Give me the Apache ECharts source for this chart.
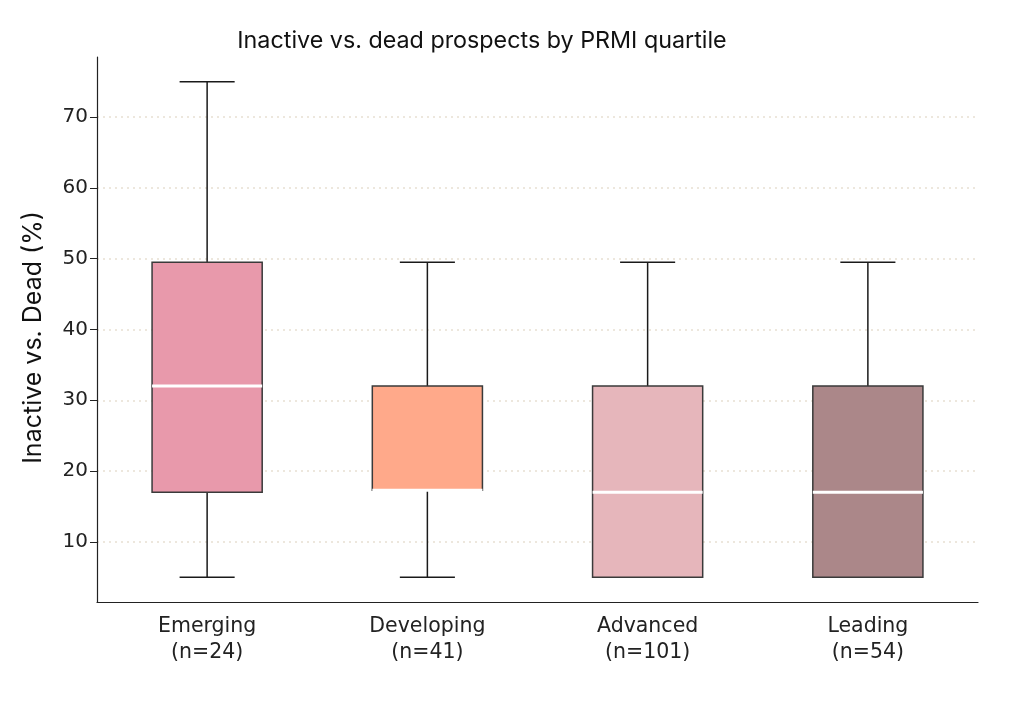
<!DOCTYPE html>
<html><head><meta charset="utf-8">
<script src="https://cdn.jsdelivr.net/npm/echarts@6/dist/echarts.min.js"></script>
<style>html,body{margin:0;padding:0;background:#fff}#c{width:1024px;height:705px}</style>
</head><body><div id="c"></div>
<script>
var categories = ['Emerging\n(n=24)', 'Developing\n(n=41)', 'Advanced\n(n=101)', 'Leading\n(n=54)'];
var mins    = [5, 5, 5, 5];
var q1s     = [17, 17.3, 5, 5];
var medians = [32, 17.3, 17, 17];
var q3s     = [49.5, 32, 32, 32];
var maxs    = [75, 49.5, 49.5, 49.5];
var colors  = ['#E899AB', '#FFA98A', '#E6B6BB', '#AB8789'];
var yTicks  = [10, 20, 30, 40, 50, 60, 70];

var data = categories.map(function (c, i) {
  return [i, mins[i], q1s[i], medians[i], q3s[i], maxs[i]];
});

var chart = echarts.init(document.getElementById('c'));
chart.setOption({
  animation: false,
  title: {
    text: 'Inactive vs. dead prospects by PRMI quartile',
    left: 477, top: 24, textAlign: 'center',
    textStyle: { fontFamily: 'Inter', fontWeight: 'normal', fontSize: 23.3, color: '#111' }
  },
  grid: { left: 97, right: 46, top: 57, bottom: 103 },
  xAxis: {
    type: 'category', data: categories, boundaryGap: true,
    axisLine: { lineStyle: { color: '#222', width: 1.2 } },
    axisTick: { alignWithLabel: true, length: 6, lineStyle: { color: '#222' } },
    axisLabel: { fontFamily: 'DejaVu Sans', fontSize: 20.5, color: '#222', lineHeight: 26, margin: 12 },
    splitLine: { show: false }
  },
  yAxis: {
    type: 'value', min: 1.5, max: 78.5,
    name: 'Inactive vs. Dead (%)', nameLocation: 'middle', nameGap: 51,
    nameTextStyle: { fontFamily: 'Inter', fontSize: 25, color: '#111', padding: [0, 16, 0, 0] },
    axisLine: { show: true, lineStyle: { color: '#222', width: 1.2 } },
    axisTick: { show: true, length: 7, lineStyle: { color: '#222' }, customValues: yTicks },
    axisLabel: { fontFamily: 'DejaVu Sans', fontSize: 20, color: '#222', margin: 9, customValues: yTicks },
    splitLine: { show: true, lineStyle: { color: '#E8DFD2', type: [2, 4], width: 1.5 }, customValues: yTicks }
  },
  series: [{
    type: 'custom',
    data: data,
    encode: { x: 0, y: [1, 2, 3, 4, 5] },
    renderItem: function (params, api) {
      var i = api.value(0);
      var band = api.size([1, 0])[0];
      var bw = band * 0.5, cw = band * 0.25;
      var pMin = api.coord([i, api.value(1)]);
      var pQ1 = api.coord([i, api.value(2)]);
      var pMed = api.coord([i, api.value(3)]);
      var pQ3 = api.coord([i, api.value(4)]);
      var pMax = api.coord([i, api.value(5)]);
      var x = pQ1[0];
      var line = { stroke: '#1a1a1a', lineWidth: 1.5 };
      return {
        type: 'group',
        children: [
          { type: 'line', shape: { x1: x, y1: pQ3[1], x2: x, y2: pMax[1] }, style: line },
          { type: 'line', shape: { x1: x, y1: pQ1[1], x2: x, y2: pMin[1] }, style: line },
          { type: 'line', shape: { x1: x - cw / 2, y1: pMax[1], x2: x + cw / 2, y2: pMax[1] }, style: line },
          { type: 'line', shape: { x1: x - cw / 2, y1: pMin[1], x2: x + cw / 2, y2: pMin[1] }, style: line },
          { type: 'rect', shape: { x: x - bw / 2, y: pQ3[1], width: bw, height: pQ1[1] - pQ3[1] },
            style: { fill: colors[i], stroke: '#3a3a3a', lineWidth: 1.5 } },
          { type: 'line', shape: { x1: x - bw / 2, y1: pMed[1], x2: x + bw / 2, y2: pMed[1] },
            style: { stroke: '#ffffff', lineWidth: 3 } }
        ]
      };
    }
  }]
});
</script></body></html>
